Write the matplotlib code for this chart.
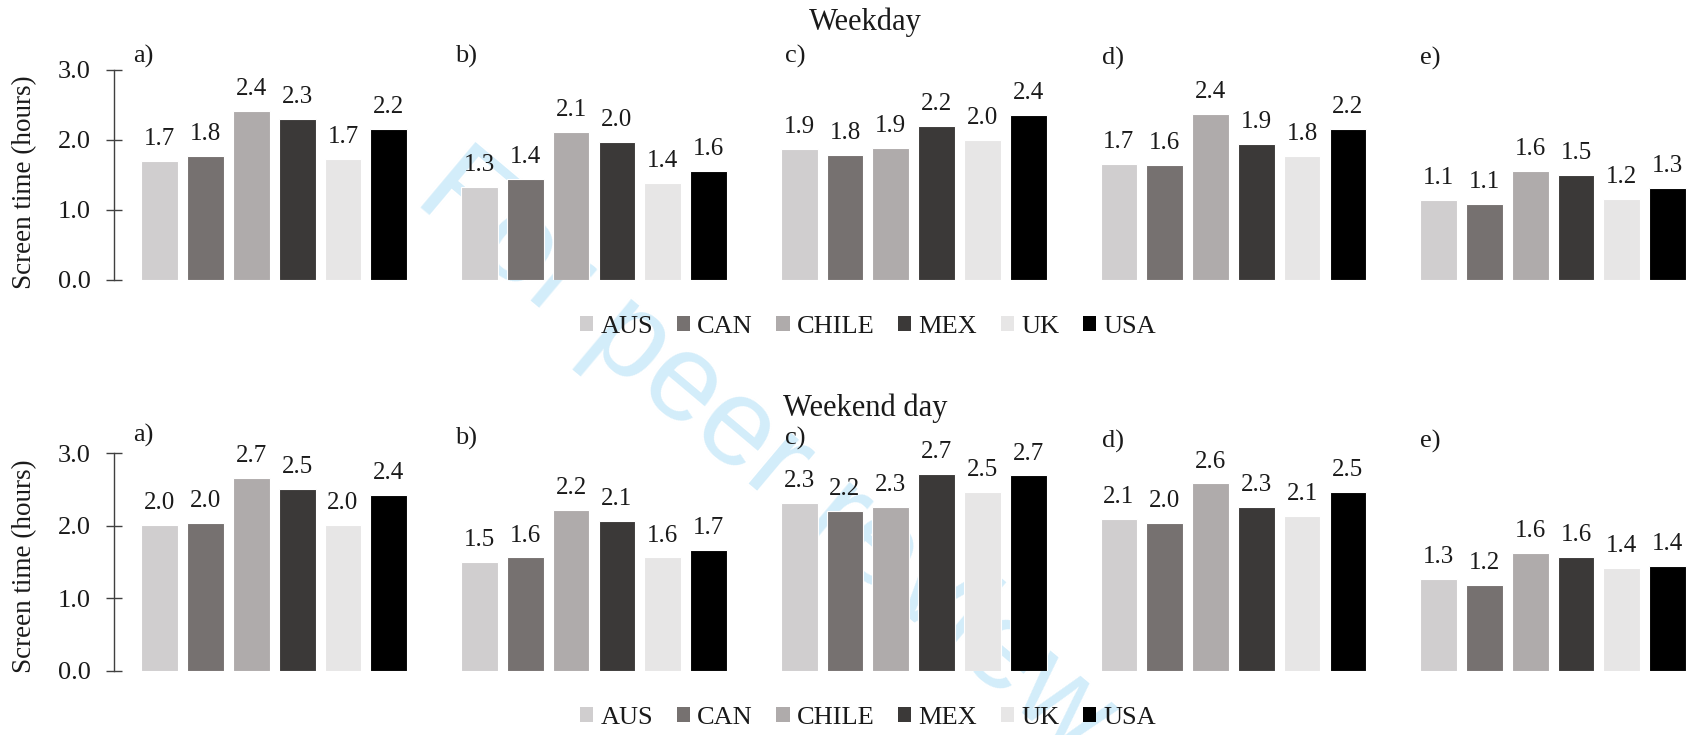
import matplotlib
matplotlib.use("Agg")
import matplotlib.pyplot as plt
from matplotlib.patches import Patch
import numpy as np

# Countries and bar colours
countries = ["AUS", "CAN", "CHILE", "MEX", "UK", "USA"]
colors = ["#D0CECF", "#767170", "#AFABAB", "#3B3938", "#E7E6E6", "#000000"]
panel_tags = ["a)", "b)", "c)", "d)", "e)"]

# Mean screen time (hours) per panel, weekday
weekday_a = [1.70, 1.77, 2.42, 2.30, 1.73, 2.16]
weekday_b = [1.33, 1.44, 2.12, 1.97, 1.39, 1.56]
weekday_c = [1.87, 1.78, 1.89, 2.20, 2.00, 2.36]
weekday_d = [1.66, 1.64, 2.37, 1.94, 1.77, 2.16]
weekday_e = [1.14, 1.08, 1.56, 1.50, 1.16, 1.32]

# Mean screen time (hours) per panel, weekend day
weekend_a = [2.01, 2.03, 2.66, 2.51, 2.01, 2.42]
weekend_b = [1.50, 1.56, 2.22, 2.06, 1.56, 1.66]
weekend_c = [2.31, 2.20, 2.26, 2.71, 2.46, 2.69]
weekend_d = [2.09, 2.03, 2.58, 2.26, 2.13, 2.46]
weekend_e = [1.27, 1.18, 1.62, 1.57, 1.41, 1.44]

rows = [
    ("Weekday", [weekday_a, weekday_b, weekday_c, weekday_d, weekday_e]),
    ("Weekend day", [weekend_a, weekend_b, weekend_c, weekend_d, weekend_e]),
]
y_ticks = [0.0, 1.0, 2.0, 3.0]

plt.rcParams["font.family"] = ["Liberation Serif", "DejaVu Serif"]
TXT = "#1a1a1a"

W, H = 1691, 735
fig = plt.figure(figsize=(W / 100, H / 100), dpi=100)

# faint diagonal watermark behind the charts
fig.text(765 / W, 1 - 455 / H, "For peer review", family="Liberation Sans",
         fontsize=90, color="#D3EDFA", rotation=-40, rotation_mode="anchor",
         ha="center", va="center", zorder=-1)

# pixel geometry of the rows: (axis zero line, axis top, title y, tag y, legend y, ylabel y)
row_geom = [
    dict(base=280.0, top=70.0, title_y=22.5, tag_y=[56, 56, 56, 58.5, 58.5], leg_y=327, ylab_y=182),
    dict(base=670.7, top=453.0, title_y=408, tag_y=[435, 438.5, 438, 441, 441], leg_y=718, ylab_y=566),
]
tag_x = [133, 455, 785, 1102, 1420]
panel_left0 = 114.0
panel_step = 319.7
panel_w = 297.7
x = np.arange(len(countries))

for (title, panels), g in zip(rows, row_geom):
    for i, vals in enumerate(panels):
        left = panel_left0 + panel_step * i
        ax = fig.add_axes([left / W, (H - g["base"]) / H, panel_w / W, (g["base"] - g["top"]) / H])
        ax.patch.set_visible(False)
        ax.bar(x, vals, width=0.8, color=colors, edgecolor="white", linewidth=0.8)
        for xi, v in zip(x, vals):
            ax.annotate(f"{v:.1f}", xy=(xi, v), xytext=(0, 11.5), textcoords="offset points",
                        ha="center", va="baseline", fontsize=18, color=TXT)
        ax.set_xlim(-1.0, 5.5)
        ax.set_ylim(0, 3.0)
        ax.set_xticks([])
        for s in ["top", "right", "bottom"]:
            ax.spines[s].set_visible(False)
        if i == 0:
            ax.spines["left"].set_color("#404040")
            ax.spines["left"].set_linewidth(1.0)
            ax.set_yticks(y_ticks)
            ax.set_yticklabels([f"{t:.1f}" for t in y_ticks])
            ax.tick_params(axis="y", direction="inout", length=12, width=1.0,
                           color="#404040", pad=11, labelsize=19, labelcolor=TXT)
        else:
            ax.spines["left"].set_visible(False)
            ax.set_yticks([])
        fig.text(tag_x[i] / W, 1 - g["tag_y"][i] / H, panel_tags[i],
                 fontsize=19, ha="left", va="center", color=TXT)

    fig.text(865 / W, 1 - g["title_y"] / H, title, fontsize=22, ha="center", va="center", color=TXT)
    fig.text(25 / W, 1 - g["ylab_y"] / H, "Screen time (hours)", rotation=90,
             fontsize=19.5, ha="center", va="center", color=TXT)
    handles = [Patch(facecolor=c, edgecolor="none") for c in colors]
    fig.legend(handles, countries, loc="center", bbox_to_anchor=(868 / W, 1 - g["leg_y"] / H),
               ncol=6, frameon=False, fontsize=19, handlelength=0.5, handleheight=0.5,
               handletextpad=0.27, columnspacing=0.9, borderpad=0, labelcolor=TXT)

fig.savefig("out.png", dpi=100)
